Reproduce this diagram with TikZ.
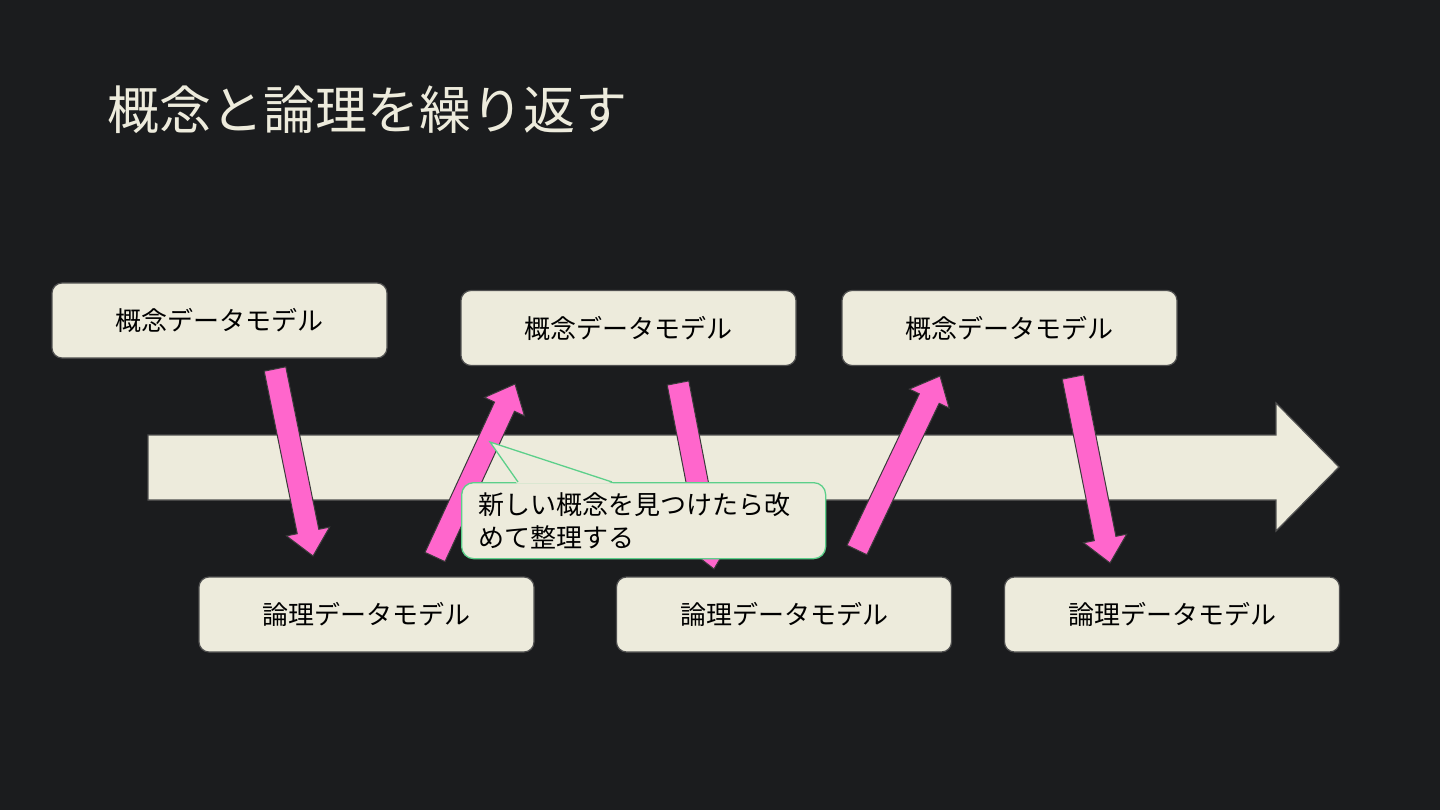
\documentclass[tikz,border=0pt]{standalone}
\usepackage{fontspec}
\setmainfont{Noto Sans CJK JP}
\usetikzlibrary{calc}
\definecolor{bg}{HTML}{1B1C1E}
\definecolor{cream}{HTML}{EDEBDC}
\definecolor{boxline}{HTML}{505050}
\definecolor{pinkf}{HTML}{FF66CC}
\definecolor{pinkline}{HTML}{3A3A3A}
\definecolor{callgreen}{HTML}{5CCF8A}
\tikzset{
  modelbox/.style={draw=boxline, line width=1.2pt, fill=cream, rounded corners=10pt,
    minimum width=335pt, minimum height=75pt, inner sep=0pt, text=black,
    font=\fontsize{26}{30}\selectfont},
  pinkarrow/.style={fill=pinkf, draw=pinkline, line width=1pt, line join=miter},
  bigarrow/.style={fill=cream, draw=boxline, line width=1.2pt},
  callbox/.style={draw=callgreen, line width=1.3pt, fill=cream, rounded corners=12pt,
    minimum width=364pt, minimum height=76pt, inner xsep=17pt, inner ysep=0pt,
    text width=330pt, align=left, text=black, font=\fontsize{26}{33}\selectfont},
}
\newcommand{\fatarrow}[3]{%
  \coordinate (#3hb) at ($(#2)!25pt!(#1)$);
  \draw[pinkarrow] ($(#1)!11pt!90:(#2)$) -- ($(#3hb)!11pt!90:(#2)$) -- ($(#3hb)!22pt!90:(#2)$)
    -- (#2) -- ($(#3hb)!22pt!-90:(#2)$) -- ($(#3hb)!11pt!-90:(#2)$) -- ($(#1)!11pt!-90:(#2)$) -- cycle;}
\begin{document}
\begin{tikzpicture}[x=1pt,y=-1pt]
\fill[bg] (0,0) rectangle (1440,810);
\useasboundingbox (0,0) rectangle (1440,810);
% title
\node[anchor=west, inner sep=0pt, text=cream, font=\fontsize{52}{60}\selectfont] (title) at (107,110) {概念と論理を繰り返す};
% big timeline arrow
\draw[bigarrow] (148,435) -- (1276,435) -- (1276,403) -- (1339,467) -- (1276,531) -- (1276,500) -- (148,500) -- cycle;
% pink arrows
\coordinate (a1s) at (275,369); \coordinate (a1e) at (313,556);
\coordinate (a2s) at (435,557); \coordinate (a2e) at (515,384);
\coordinate (a3s) at (678,383); \coordinate (a3e) at (714,569);
\coordinate (a4s) at (857,550); \coordinate (a4e) at (940,376);
\coordinate (a5s) at (1073,377); \coordinate (a5e) at (1110,563);
\fatarrow{a1s}{a1e}{a1}
\fatarrow{a2s}{a2e}{a2}
\fatarrow{a3s}{a3e}{a3}
\fatarrow{a4s}{a4e}{a4}
\fatarrow{a5s}{a5e}{a5}
% boxes
\node[modelbox] (c1) at (219.5,320.5) {概念データモデル};
\node[modelbox] (c2) at (628.5,328) {概念データモデル};
\node[modelbox] (c3) at (1009.5,328) {概念データモデル};
\node[modelbox] (l1) at (366.5,614.5) {論理データモデル};
\node[modelbox] (l2) at (784,614.5) {論理データモデル};
\node[modelbox] (l3) at (1172,614.5) {論理データモデル};
% callout
\node[callbox, anchor=north west] (note) at (461,482) {新しい概念を見つけたら改\\めて整理する};
\coordinate (tip) at (490,442);
\fill[cream] ($(note.north west)+(56,1.5)$) -- (tip) -- ($(note.north west)+(152,1.5)$) -- cycle;
\draw[callgreen, line width=1.3pt, line join=miter] ($(note.north west)+(57,0)$) -- (tip) -- ($(note.north west)+(151,0)$);
\end{tikzpicture}
\end{document}
